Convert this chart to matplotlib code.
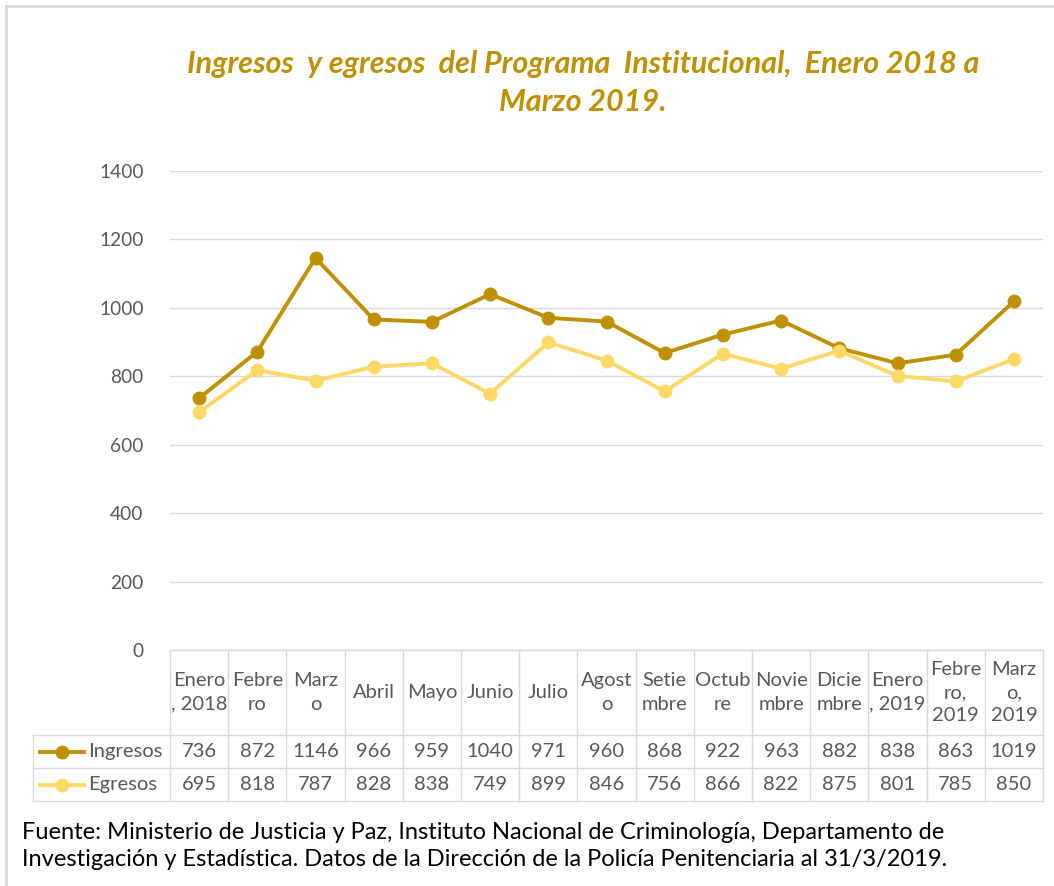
import matplotlib.pyplot as plt
from matplotlib.lines import Line2D
from matplotlib.transforms import blended_transform_factory

# Data
meses = ["Enero\n, 2018", "Febre\nro", "Marz\no", "Abril", "Mayo", "Junio", "Julio",
         "Agost\no", "Setie\nmbre", "Octub\nre", "Novie\nmbre", "Dicie\nmbre",
         "Enero\n, 2019", "Febre\nro,\n2019", "Marz\no,\n2019"]
ingresos = [736, 872, 1146, 966, 959, 1040, 971, 960, 868, 922, 963, 882, 838, 863, 1019]
egresos = [695, 818, 787, 828, 838, 749, 899, 846, 756, 866, 822, 875, 801, 785, 850]

series = [("Ingresos", ingresos, "#BF9000"), ("Egresos", egresos, "#FFD966")]

plt.rcParams['font.family'] = ['Lato', 'DejaVu Sans']
grid_c = "#D9D9D9"
txt_c = "#595959"

W, H = 1054, 886
fig = plt.figure(figsize=(W / 100, H / 100), dpi=100)

# chart area in pixels
x0, x1 = 170, 1043
y_top, y_bot = 171, 650
ax = fig.add_axes([x0 / W, 1 - y_bot / H, (x1 - x0) / W, (y_bot - y_top) / H])

x = list(range(len(meses)))
for name, vals, col in series:
    ax.plot(x, vals, color=col, linewidth=2.8, marker="o", markersize=9, zorder=3)

ax.set_xlim(-0.5, len(meses) - 0.5)
ax.set_ylim(0, 1400)
ax.set_yticks(range(0, 1401, 200))
ax.set_xticks([])
ax.tick_params(axis="y", length=0, pad=19, labelsize=13.8, labelcolor=txt_c)
ax.grid(axis="y", color=grid_c, linewidth=1)
ax.set_axisbelow(True)
for s in ax.spines.values():
    s.set_visible(False)

# -----------------------
# Data table under the chart
# -----------------------
trans = blended_transform_factory(ax.transData, ax.transAxes)
ah = y_bot - y_top
def yax(py):
    return (y_bot - py) / ah

rows_px = [650, 735, 768, 801]
ry = [yax(p) for p in rows_px]
px_per = (x1 - x0) / len(meses)
def xd(px):
    return (px - x0) / px_per - 0.5
leg_left = xd(33)

def tline(xs, ys):
    ax.add_line(Line2D(xs, ys, transform=trans, color=grid_c, linewidth=1,
                       clip_on=False, zorder=1))

# horizontal lines
tline([-0.5, len(meses) - 0.5], [ry[0], ry[0]])
for r in ry[1:]:
    tline([leg_left, len(meses) - 0.5], [r, r])
# vertical lines
for k in range(len(meses) + 1):
    tline([k - 0.5, k - 0.5], [ry[0], ry[3]])
tline([leg_left, leg_left], [ry[1], ry[3]])

for i, m in enumerate(meses):
    ax.text(i, (ry[0] + ry[1]) / 2, m, transform=trans, ha="center", va="center",
            fontsize=14.5, color=txt_c, linespacing=1.45)
    for j, (name, vals, col) in enumerate(series):
        ax.text(i, (ry[j + 1] + ry[j + 2]) / 2, str(vals[i]), transform=trans,
                ha="center", va="center", fontsize=14.5, color=txt_c)

# legend keys inside the table
for j, (name, vals, col) in enumerate(series):
    yc = (ry[j + 1] + ry[j + 2]) / 2
    ax.add_line(Line2D([xd(40), xd(84)], [yc, yc], transform=trans, color=col,
                       linewidth=2.8, clip_on=False))
    ax.add_line(Line2D([xd(62)], [yc], transform=trans, color=col, marker="o",
                       markersize=9, clip_on=False))
    ax.text(xd(88), yc, name, transform=trans, ha="left", va="center",
            fontsize=14.5, color=txt_c)

# -----------------------
# Title and source
# -----------------------
fig.text(583 / W, 1 - 83 / H,
         "Ingresos  y egresos  del Programa  Institucional,  Enero 2018 a\nMarzo 2019.",
         ha="center", va="center", fontsize=22, fontweight="bold", fontstyle="italic",
         color="#BF9000", linespacing=1.4)

fig.text(22 / W, 1 - 846 / H,
         "Fuente: Ministerio de Justicia y Paz, Instituto Nacional de Criminología, Departamento de\n"
         "Investigación y Estadística. Datos de la Dirección de la Policía Penitenciaria al 31/3/2019.",
         ha="left", va="center", fontsize=17, color="black", linespacing=1.4)

# outer frame (top and left edges)
fig.add_artist(Line2D([6 / W, 1], [1 - 6 / H, 1 - 6 / H], color=grid_c, linewidth=2,
                      transform=fig.transFigure))
fig.add_artist(Line2D([6 / W, 6 / W], [0, 1 - 6 / H], color=grid_c, linewidth=2,
                      transform=fig.transFigure))

fig.savefig("out.png", dpi=100)
